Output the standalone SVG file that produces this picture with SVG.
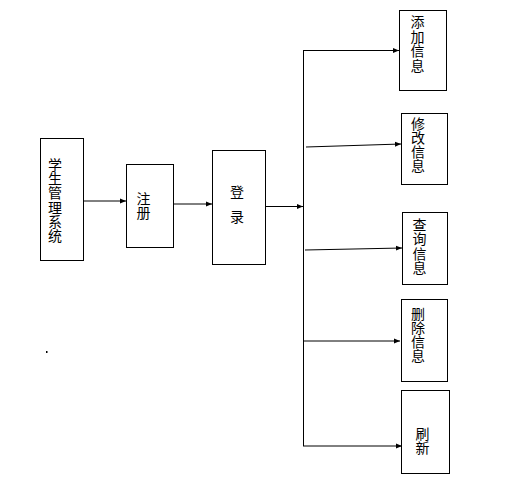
<svg xmlns="http://www.w3.org/2000/svg" width="530" height="481" viewBox="0 0 530 481">
<defs>
<marker id="ah" markerWidth="6" markerHeight="6" refX="6" refY="3" orient="auto" markerUnits="userSpaceOnUse">
<path d="M0,0.5 L6,3 L0,5.5 Z" fill="#000"/>
</marker>
<style>
.box{fill:#fff;stroke:#000;stroke-width:1}
.t{font-family:"Noto Sans CJK SC","Liberation Sans",sans-serif;font-size:14px;fill:#000;text-anchor:middle}
.c{fill:none;stroke:#000;stroke-width:1}
</style>
</defs>
<rect width="530" height="481" fill="#fff"/>
<g id="connectors">
<line class="c" x1="83" y1="201" x2="126" y2="201" marker-end="url(#ah)"/>
<line class="c" x1="173" y1="204" x2="212" y2="204" marker-end="url(#ah)"/>
<line class="c" x1="266" y1="206.5" x2="303" y2="206.5" marker-end="url(#ah)"/>
<line class="c" x1="303.5" y1="50" x2="303.5" y2="446"/>
<line class="c" x1="303" y1="50.5" x2="399" y2="50.5" marker-end="url(#ah)"/>
<line class="c" x1="306" y1="147" x2="401" y2="144" marker-end="url(#ah)"/>
<line class="c" x1="305" y1="250" x2="402" y2="248" marker-end="url(#ah)"/>
<line class="c" x1="304" y1="341" x2="400" y2="341" marker-end="url(#ah)"/>
<line class="c" x1="303" y1="446" x2="402" y2="446" marker-end="url(#ah)"/>
</g>
<g id="n_system">
<rect class="box" x="40.5" y="138.5" width="43" height="122"/>
<text class="t"><tspan x="55" y="170">学</tspan><tspan x="55" y="184.2">生</tspan><tspan x="55" y="198.4">管</tspan><tspan x="55" y="212.6">理</tspan><tspan x="55" y="226.8">系</tspan><tspan x="55" y="241">统</tspan></text>
</g>
<g id="n_register">
<rect class="box" x="126.5" y="164.5" width="47" height="83"/>
<text class="t"><tspan x="143.5" y="204">注</tspan><tspan x="143.5" y="218">册</tspan></text>
</g>
<g id="n_login">
<rect class="box" x="212.5" y="150.5" width="53" height="114"/>
<text class="t"><tspan x="237" y="197">登</tspan><tspan x="237" y="222">录</tspan></text>
</g>
<g id="n_add">
<rect class="box" x="399.5" y="10.5" width="47" height="80"/>
<text class="t"><tspan x="417.5" y="27">添</tspan><tspan x="417.5" y="41.5">加</tspan><tspan x="417.5" y="56">信</tspan><tspan x="417.5" y="70.5">息</tspan></text>
</g>
<g id="n_edit">
<rect class="box" x="401.5" y="113.5" width="46" height="71"/>
<text class="t"><tspan x="418" y="129">修</tspan><tspan x="418" y="143">改</tspan><tspan x="418" y="157">信</tspan><tspan x="418" y="171">息</tspan></text>
</g>
<g id="n_query">
<rect class="box" x="402.5" y="212.5" width="45" height="72"/>
<text class="t"><tspan x="419.5" y="230">查</tspan><tspan x="419.5" y="244.3">询</tspan><tspan x="419.5" y="258.6">信</tspan><tspan x="419.5" y="273">息</tspan></text>
</g>
<g id="n_delete">
<rect class="box" x="401.5" y="299.5" width="46" height="82"/>
<text class="t"><tspan x="418" y="319">删</tspan><tspan x="418" y="333">除</tspan><tspan x="418" y="347">信</tspan><tspan x="418" y="361">息</tspan></text>
</g>
<g id="n_refresh">
<rect class="box" x="401.5" y="390.5" width="48" height="83"/>
<text class="t"><tspan x="422.5" y="439">刷</tspan><tspan x="422.5" y="453">新</tspan></text>
</g>
<rect x="46" y="351" width="1.5" height="2" fill="#000"/>
</svg>
